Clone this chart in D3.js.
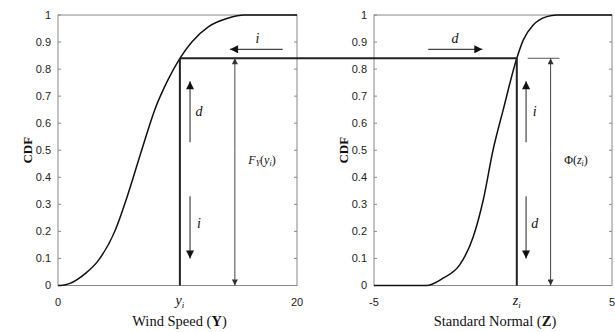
<!DOCTYPE html>
<html>
<head>
<meta charset="utf-8">
<script src="https://cdn.jsdelivr.net/npm/d3@7"></script>
<style>
  body { margin: 0; background: #fff; }
  svg { display: block; }
  .tick-label { font-family: "Liberation Sans", Arial, sans-serif; font-size: 11px; fill: #222; }
  .serif { font-family: "Liberation Serif", "Times New Roman", serif; fill: #111; }
</style>
</head>
<body>
<svg id="chart" width="615" height="332"></svg>
<script>
// curve points
var windSpeed = [0, 0.2, 1.0, 2.3, 3.4, 4.8, 5.8, 7.0, 8.1, 9.2, 10.2, 11.2, 12.6, 14.2, 15.6, 17, 20];
var windCdf   = [0, 0, 0.008, 0.045, 0.094, 0.205, 0.33, 0.5, 0.65, 0.76, 0.84, 0.9, 0.957, 0.988, 1, 1, 1];
var normZ     = [-5, -2.8, -2.1, -1.4, -0.83, -0.41, 0.0, 0.43, 1.0, 1.27, 1.69, 2.26, 2.68, 5];
var normCdf   = [0, 0, 0.027, 0.076, 0.18, 0.316, 0.5, 0.65, 0.84, 0.907, 0.963, 0.994, 1, 1];

var yTicks = [0, 0.1, 0.2, 0.3, 0.4, 0.5, 0.6, 0.7, 0.8, 0.9, 1];
var yTickLabels = ["0", "0.1", "0.2", "0.3", "0.4", "0.5", "0.6", "0.7", "0.8", "0.9", "1"];
var windTicks = [0, 20];
var normTicks = [-5, 5];

var yi = 10.2, zi = 1.0, level = 0.84;
var fArrowX = 14.8, phiArrowZ = 2.42;

var svg = d3.select("#chart");
var plotTop = 15, plotBottom = 285.5;

var y = d3.scaleLinear().domain([0, 1]).range([plotBottom, plotTop]);
var xL = d3.scaleLinear().domain([0, 20]).range([58, 297]);
var xR = d3.scaleLinear().domain([-5, 5]).range([374, 612]);

var defs = svg.append("defs");
function marker(id, w, h, col) {
  defs.append("marker")
    .attr("id", id)
    .attr("viewBox", "0 0 10 10")
    .attr("refX", 10).attr("refY", 5)
    .attr("markerWidth", w).attr("markerHeight", h)
    .attr("markerUnits", "userSpaceOnUse")
    .attr("orient", "auto-start-reverse")
    .append("path")
    .attr("d", "M0,0L10,5L0,10Z")
    .attr("fill", col);
}
marker("big", 10, 8, "#111");
marker("small", 7, 6, "#333");

function panel(x, ticks, xs, cdf, title, titleBold) {
  var g = svg.append("g");
  var x0 = x.range()[0], x1 = x.range()[1];

  // frame
  g.append("rect")
    .attr("x", x0).attr("y", plotTop)
    .attr("width", x1 - x0).attr("height", plotBottom - plotTop)
    .attr("fill", "none").attr("stroke", "#888").attr("stroke-width", 1);

  // y ticks inside on both sides
  g.selectAll(".yt").data(yTicks).enter().append("path")
    .attr("d", function(d) {
      return "M" + x0 + "," + y(d) + "h3M" + x1 + "," + y(d) + "h-3";
    })
    .attr("stroke", "#888");

  g.selectAll(".yl").data(yTicks).enter().append("text")
    .attr("class", "tick-label")
    .attr("x", x0 - 7)
    .attr("y", function(d) { return y(d); })
    .attr("dy", "0.35em")
    .attr("text-anchor", "end")
    .text(function(d, i) { return yTickLabels[i]; });

  g.selectAll(".xl").data(ticks).enter().append("text")
    .attr("class", "tick-label")
    .attr("x", function(d) { return x(d); })
    .attr("y", 306)
    .attr("text-anchor", "middle")
    .text(function(d) { return d; });

  // CDF label
  g.append("text")
    .attr("class", "serif")
    .attr("transform", "translate(" + (x0 - 26) + "," + y(0.5) + ") rotate(-90)")
    .attr("text-anchor", "middle")
    .attr("font-size", 13)
    .attr("font-weight", "bold")
    .text("CDF");

  // axis title
  var t = g.append("text")
    .attr("class", "serif")
    .attr("x", (x0 + x1) / 2 + 2)
    .attr("y", 326)
    .attr("text-anchor", "middle")
    .attr("font-size", 14.5);
  t.append("tspan").text(title + " (");
  t.append("tspan").attr("font-weight", "bold").text(titleBold);
  t.append("tspan").text(")");

  // curve
  var line = d3.line()
    .x(function(d, i) { return x(xs[i]); })
    .y(function(d, i) { return y(cdf[i]); })
    .curve(d3.curveMonotoneX);
  g.append("path")
    .datum(xs)
    .attr("d", line)
    .attr("fill", "none")
    .attr("stroke", "#111")
    .attr("stroke-width", 1.5);
  return g;
}

function arrow(x1, y1, x2, y2, m, w, col) {
  svg.append("line")
    .attr("x1", x1).attr("y1", y1).attr("x2", x2).attr("y2", y2)
    .attr("stroke", col).attr("stroke-width", w)
    .attr("marker-end", "url(#" + m + ")");
}

function label(x, yy, txt, size) {
  svg.append("text")
    .attr("class", "serif")
    .attr("x", x).attr("y", yy)
    .attr("dy", "0.35em")
    .attr("text-anchor", "middle")
    .attr("font-style", "italic")
    .attr("font-size", size || 14)
    .text(txt);
}

panel(xL, windTicks, windSpeed, windCdf, "Wind Speed", "Y");
panel(xR, normTicks, normZ, normCdf, "Standard Normal", "Z");

// subscripted tick labels
function subLabel(x, yy, main, sub) {
  var t = svg.append("text")
    .attr("class", "serif")
    .attr("x", x).attr("y", yy)
    .attr("text-anchor", "middle")
    .attr("font-style", "italic")
    .attr("font-size", 14);
  t.append("tspan").text(main);
  t.append("tspan").attr("font-size", 9).attr("dy", 3).text(sub);
}
subLabel(xL(yi), 305, "y", "i");
subLabel(xR(zi), 305, "z", "i");

// horizontal connector and vertical drops
svg.append("line")
  .attr("x1", xL(yi)).attr("x2", xR(zi))
  .attr("y1", y(level)).attr("y2", y(level))
  .attr("stroke", "#222").attr("stroke-width", 2);
svg.append("line")
  .attr("x1", xL(yi)).attr("x2", xL(yi))
  .attr("y1", y(level)).attr("y2", y(0))
  .attr("stroke", "#222").attr("stroke-width", 2);
svg.append("line")
  .attr("x1", xR(zi)).attr("x2", xR(zi))
  .attr("y1", y(level)).attr("y2", y(0))
  .attr("stroke", "#222").attr("stroke-width", 2);

// left panel arrows
arrow(xL(18.8), y(0.873), xL(14.4), y(0.873), "big", 1.2, "#444");
label(xL(16.7), y(0.915), "i");
arrow(xL(11.05), y(0.53), xL(11.05), y(0.755), "big", 1.2, "#444");
label(xL(11.8), y(0.645), "d");
arrow(xL(11.05), y(0.33), xL(11.05), y(0.1), "big", 1.2, "#444");
label(xL(11.8), y(0.23), "i");

// F_Y(y_i) double arrow
svg.append("line")
  .attr("x1", xL(fArrowX)).attr("x2", xL(fArrowX))
  .attr("y1", y(0.5)).attr("y2", y(level))
  .attr("stroke", "#444").attr("stroke-width", 1)
  .attr("marker-end", "url(#small)");
svg.append("line")
  .attr("x1", xL(fArrowX)).attr("x2", xL(fArrowX))
  .attr("y1", y(0.5)).attr("y2", y(0))
  .attr("stroke", "#444").attr("stroke-width", 1)
  .attr("marker-end", "url(#small)");
var fl = svg.append("text").attr("class", "serif")
  .attr("x", 262).attr("y", 160).attr("dy", "0.35em")
  .attr("text-anchor", "middle").attr("font-size", 12);
fl.append("tspan").attr("font-style", "italic").text("F");
fl.append("tspan").attr("font-style", "italic").attr("font-size", 8).attr("dy", 2).text("Y");
fl.append("tspan").attr("dy", -2).text("(");
fl.append("tspan").attr("font-style", "italic").text("y");
fl.append("tspan").attr("font-style", "italic").attr("font-size", 8).attr("dy", 2).text("i");
fl.append("tspan").attr("dy", -2).text(")");

// right panel arrows
arrow(xR(-2.72), y(0.873), xR(-0.45), y(0.873), "big", 1.2, "#444");
label(xR(-1.6), y(0.915), "d");
arrow(xR(1.39), y(0.53), xR(1.39), y(0.755), "big", 1.2, "#444");
label(xR(1.75), y(0.645), "i");
arrow(xR(1.39), y(0.33), xR(1.39), y(0.1), "big", 1.2, "#444");
label(xR(1.75), y(0.23), "d");

// Phi(z_i) marker
svg.append("line")
  .attr("x1", xR(1.46)).attr("x2", xR(2.79))
  .attr("y1", y(level)).attr("y2", y(level))
  .attr("stroke", "#555").attr("stroke-width", 1);
svg.append("line")
  .attr("x1", xR(phiArrowZ)).attr("x2", xR(phiArrowZ))
  .attr("y1", y(0.5)).attr("y2", y(level))
  .attr("stroke", "#444").attr("stroke-width", 1)
  .attr("marker-end", "url(#small)");
svg.append("line")
  .attr("x1", xR(phiArrowZ)).attr("x2", xR(phiArrowZ))
  .attr("y1", y(0.5)).attr("y2", y(0))
  .attr("stroke", "#444").attr("stroke-width", 1)
  .attr("marker-end", "url(#small)");
var pl = svg.append("text").attr("class", "serif")
  .attr("x", 576).attr("y", 160).attr("dy", "0.35em")
  .attr("text-anchor", "middle").attr("font-size", 12);
pl.append("tspan").text("\u03A6(");
pl.append("tspan").attr("font-style", "italic").text("z");
pl.append("tspan").attr("font-style", "italic").attr("font-size", 8).attr("dy", 2).text("i");
pl.append("tspan").attr("dy", -2).text(")");
</script>
</body>
</html>
